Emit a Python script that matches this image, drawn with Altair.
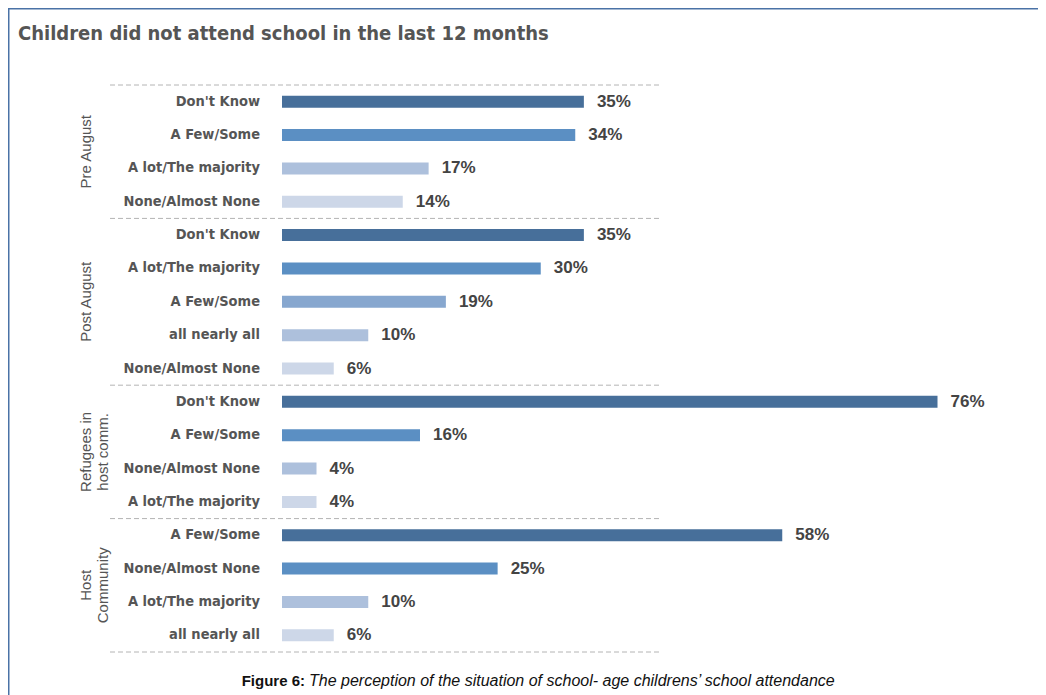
import altair as alt
import pandas as pd

title_text = "Children did not attend school in the last 12 months"
caption_bold = "Figure 6:"
caption_italic = "The perception of the situation of school- age childrens\u2019 school attendance"

groups = ["Pre August", "Post August", "Refugees in\nhost comm.", "Host\nCommunity"]

pre_cats = ["Don't Know", "A Few/Some", "A lot/The majority", "None/Almost None"]
pre_vals = [35, 34, 17, 14]
post_cats = ["Don't Know", "A lot/The majority", "A Few/Some", "all nearly all", "None/Almost None"]
post_vals = [35, 30, 19, 10, 6]
ref_cats = ["Don't Know", "A Few/Some", "None/Almost None", "A lot/The majority"]
ref_vals = [76, 16, 4, 4]
host_cats = ["A Few/Some", "None/Almost None", "A lot/The majority", "all nearly all"]
host_vals = [58, 25, 10, 6]

shade_colors = ["#476f9a", "#5b8fc3", "#87a7cf", "#adc0dc", "#cdd7e8"]

rows = []
grp_rows = []
bounds = [0]
r = 0
for g, cats, vals in zip(groups, [pre_cats, post_cats, ref_cats, host_cats],
                         [pre_vals, post_vals, ref_vals, host_vals]):
    n = len(cats)
    start = r
    for i, (c, v) in enumerate(zip(cats, vals)):
        shade = i if i < 2 else 4 - (n - 1 - i)
        rows.append({"group": g, "cat": c, "value": v, "zero": 0, "yc": r + 0.5,
                     "shade": shade, "label": f"{v}%"})
        r += 1
    grp_rows.append({"group": g, "yc": start + n / 2})
    bounds.append(r)

df = pd.DataFrame(rows)
gdf = pd.DataFrame(grp_rows)
sdf = pd.DataFrame({"b": bounds})
total_rows = r

W = 690
H = 567
PAD_L = 274
PAD_T = 77

xs = alt.Scale(domain=[0, 80])
ys = alt.Scale(domain=[0, total_rows], reverse=True)

narrow = "DejaVu Sans Condensed, Liberation Sans, sans-serif"
sans = "Liberation Sans, Arial, sans-serif"

base = alt.Chart(df)

bars = base.mark_rule(strokeWidth=12).encode(
    x=alt.X("zero:Q", scale=xs, axis=None),
    x2="value:Q",
    y=alt.Y("yc:Q", scale=ys, axis=None),
    color=alt.Color("shade:O", scale=alt.Scale(domain=[0, 1, 2, 3, 4], range=shade_colors), legend=None),
)

vals = base.mark_text(align="left", baseline="middle", dx=13, font=sans, fontWeight="bold",
                      fontSize=17, color="#444444").encode(
    x=alt.X("value:Q", scale=xs, axis=None),
    y=alt.Y("yc:Q", scale=ys, axis=None),
    text="label:N",
)

cats = base.mark_text(align="right", baseline="middle", font=narrow, fontWeight="bold",
                      fontSize=14.5, color="#555555").encode(
    x=alt.value(-22),
    y=alt.Y("yc:Q", scale=ys, axis=None),
    text="cat:N",
)

glabels = alt.Chart(gdf).mark_text(angle=270, align="center", baseline="middle", font=sans,
                                   fontSize=15, color="#555555", lineBreak="\n").encode(
    x=alt.value(-196),
    y=alt.Y("yc:Q", scale=ys, axis=None),
    text="group:N",
)

seps = alt.Chart(sdf).mark_rule(color="#b4b4b4", strokeDash=[5, 3], strokeWidth=1).encode(
    x=alt.value(-172),
    x2=alt.value(380),
    y=alt.Y("b:Q", scale=ys, axis=None),
)

title = alt.Chart(pd.DataFrame({"t": [title_text]})).mark_text(
    align="left", baseline="alphabetic", font=narrow, fontWeight="bold", fontSize=20,
    color="#555555").encode(x=alt.value(-264), y=alt.value(-45), text="t:N")

cap1 = alt.Chart(pd.DataFrame({"t": [caption_bold]})).mark_text(
    align="right", baseline="middle", font=sans, fontWeight="bold", fontSize=15,
    color="#111111").encode(x=alt.value(23), y=alt.value(596), text="t:N")

cap2 = alt.Chart(pd.DataFrame({"t": [caption_italic]})).mark_text(
    align="left", baseline="middle", font=sans, fontStyle="italic", fontSize=16,
    color="#111111").encode(x=alt.value(27), y=alt.value(596), text="t:N")

frame_left = alt.Chart(pd.DataFrame({"k": [0]})).mark_rule(color="#4a72a6", strokeWidth=3).encode(
    x=alt.value(-PAD_L), y=alt.value(-PAD_T), y2=alt.value(H + 60))
frame_top = alt.Chart(pd.DataFrame({"k": [1]})).mark_rule(color="#4a72a6", strokeWidth=3).encode(
    x=alt.value(-PAD_L), x2=alt.value(W + 80), y=alt.value(-PAD_T))

chart = alt.layer(frame_left, frame_top, seps, bars, vals, cats, glabels, title, cap1, cap2).properties(
    width=W, height=H,
    autosize=alt.AutoSizeParams(type="none"),
    padding={"left": PAD_L, "top": PAD_T, "right": 1030 - PAD_L - W, "bottom": 687 - PAD_T - H},
).configure_view(stroke=None)

chart.save("out.html", embed_options={"renderer": "svg", "actions": False})
